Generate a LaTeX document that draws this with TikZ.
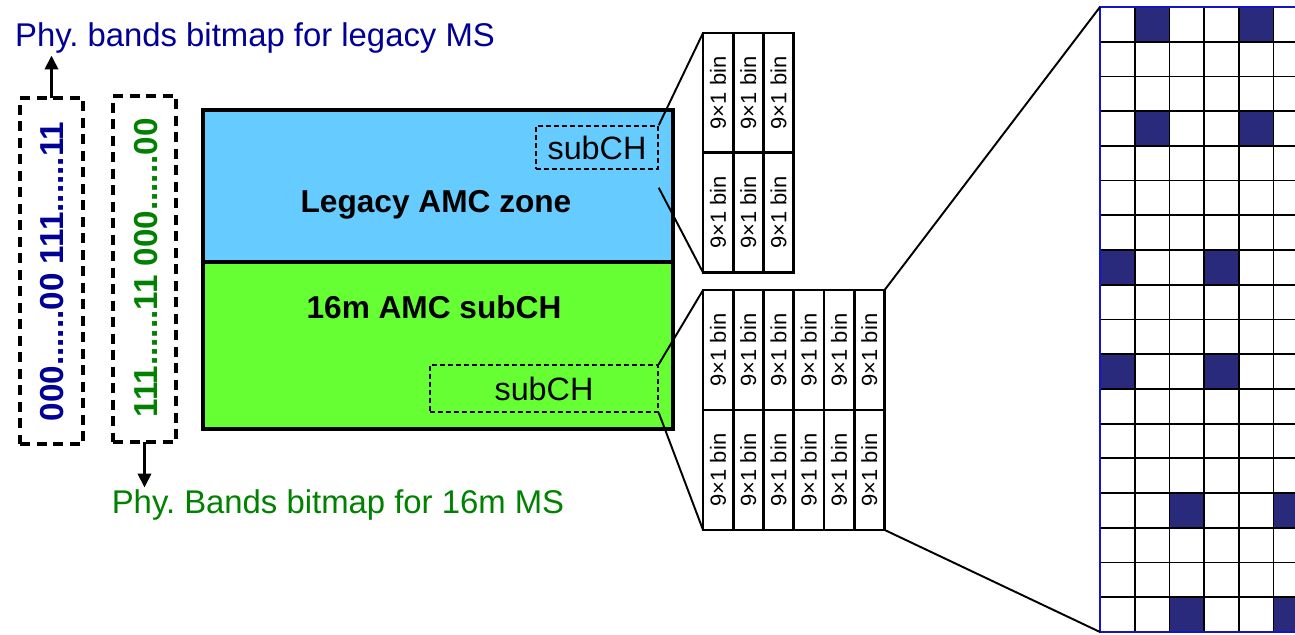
\documentclass[tikz,border=0pt]{standalone}
\usepackage{fontspec}
\setmainfont{Liberation Sans}
\usetikzlibrary{positioning,calc,arrows.meta}

\definecolor{legacyblue}{RGB}{102,204,255}
\definecolor{amcgreen}{RGB}{102,255,51}
\definecolor{bitnavy}{RGB}{0,0,150}
\definecolor{bitgreen}{RGB}{0,130,0}
\definecolor{cellnavy}{RGB}{42,42,124}
\definecolor{gridblue}{RGB}{20,20,200}

\newcommand{\binlabel}{\rotatebox{90}{9×1 bin}}

\begin{document}
\begin{tikzpicture}[x=0.2mm,y=-0.2mm,
         zone/.style = {draw,line width=2.2pt,minimum width=94mm,inner sep=0pt,outer sep=0pt},
         zonetext/.style = {font=\fontsize{18}{20}\selectfont\bfseries},
         subch/.style = {draw,dash pattern=on 1mm off 0.6mm,line width=0.8pt,inner sep=0pt,
            font=\fontsize{18.4}{20}\selectfont},
         bin/.style = {draw,line width=1.5pt,minimum width=6.05mm,minimum height=23.95mm,
            inner sep=0pt,outer sep=0pt,font=\fontsize{12.5}{14}\selectfont},
         bitbox/.style = {draw,line width=2pt,dash pattern=on 2mm off 1.3mm,
            minimum width=12.6mm,minimum height=69.2mm,inner sep=0pt,outer sep=0pt},
         bitstr/.style = {rotate=90,font=\fontsize{18.9}{21}\selectfont\bfseries},
         bandlabel/.style = {inner sep=1pt,font=\fontsize{18.7}{21}\selectfont},
         bitarrow/.style = {line width=2pt,-{Triangle[width=2.6mm,length=2.8mm]}},
         zoomline/.style = {line width=1.1pt},
         gridline/.style = {line width=1pt}
]
      \useasboundingbox (0,0) rectangle (1295,634);
      \clip (0,0) rectangle (1295,634);

      % band zones
      \node[zone,fill=legacyblue,minimum height=30.4mm] (legacy) at (438,186) {};
      \node[zone,fill=amcgreen,minimum height=33.4mm,below=0pt of legacy] (amc) {};
      \node[zonetext] (legacytext) at (436,205) {Legacy AMC zone};
      \node[zonetext] (amctext) at (434,307) {16m AMC subCH};

      % subchannels
      \node[subch,minimum width=24.4mm,minimum height=8.6mm] (subtop) at (597,147.5) {subCH};
      \node[subch,minimum width=45.6mm,minimum height=9.4mm] (subbot) at (544,388.5) {subCH};
      \coordinate[below=3.6mm of subtop.south east] (subtoplow);

      % 9x1 bins
      \foreach \col in {0,1,2}{
         \node[bin] (bt\col-a) at ({703+30.25*(\col+0.5)},92.9) {\binlabel};
         \node[bin] (bt\col-b) at ({703+30.25*(\col+0.5)},212.6) {\binlabel};
      }
      \foreach \col in {0,...,5}{
         \node[bin] (bb\col-a) at ({703+30.25*(\col+0.5)},350) {\binlabel};
         \node[bin] (bb\col-b) at ({703+30.25*(\col+0.5)},470) {\binlabel};
      }

      % subcarrier bitmap
      \coordinate (gridnw) at (1100,7);
      \coordinate (gridsw) at (1100,632);
      \def\cellsz{34.72}
      \foreach \row/\col in {0/1,0/4,3/1,3/4,7/0,7/3,10/0,10/3,14/2,14/5,17/2,17/5}
         \fill[cellnavy] ($(gridnw)+(\col*\cellsz,\row*\cellsz)$) rectangle ++(\cellsz,\cellsz);
      \foreach \row in {1,...,17}
         \draw[gridline] ($(gridnw)+(0,\row*\cellsz)$) -- ++(6*\cellsz,0);
      \foreach \col in {1,...,5}
         \draw[gridline] ($(gridnw)+(\col*\cellsz,0)$) -- ++(0,18*\cellsz);
      \draw[gridline,gridblue] (gridnw) rectangle ++(6*\cellsz,18*\cellsz);

      % zoom lines
      \draw[zoomline] (subtop.north east) -- (bt0-a.north west);
      \draw[zoomline] (subtoplow) -- (bt0-b.south west);
      \draw[zoomline] (subbot.north east) -- (bb0-a.north west);
      \draw[zoomline] (subbot.south east) -- (bb0-b.south west);
      \draw[zoomline] (bb5-a.north east) -- (gridnw);
      \draw[zoomline] (bb5-b.south east) -- (gridsw);

      % band bitmaps
      \node[bitbox] (legacybits) at (51.5,271) {};
      \node[bitbox] (amcbits) at (144.5,269) {};
      \node[bitstr,text=bitnavy] at (52.5,271.5) {000......00 111......11};
      \node[bitstr,text=bitgreen] at (146,268) {111......11 000......00};
      \node[bandlabel,text=bitnavy] (legacylabel) at (255,38) {Phy.\ bands bitmap for legacy MS};
      \node[bandlabel,text=bitgreen] (amclabel) at (338,505) {Phy.\ Bands bitmap for 16m MS};
      \draw[bitarrow] (legacybits.north) -- (legacybits.north |- legacylabel.south);
      \draw[bitarrow] (amcbits.south) -- (amcbits.south |- amclabel.north);
\end{tikzpicture}
\end{document}
